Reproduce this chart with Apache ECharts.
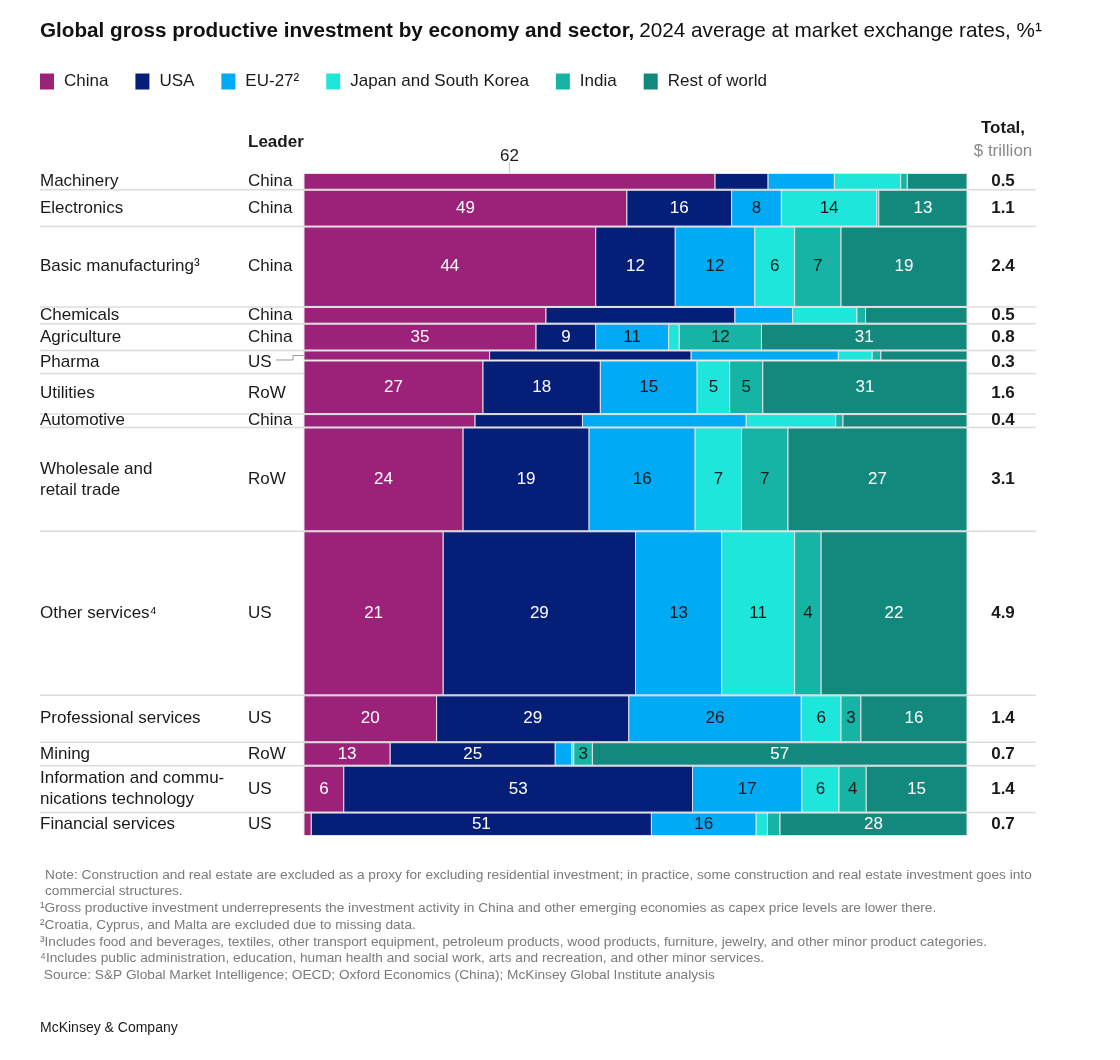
<!DOCTYPE html>
<html>
<head>
<meta charset="utf-8">
<script src="https://cdn.jsdelivr.net/npm/echarts@6/dist/echarts.min.js"></script>
<style>
  html, body { margin: 0; padding: 0; background: #fff; }
  #chart { width: 1120px; height: 1060px; }
</style>
</head>
<body>
<div id="chart"></div>
<script>
// 数据
var sectors = ['Machinery', 'Electronics', 'Basic manufacturing³', 'Chemicals', 'Agriculture', 'Pharma',
    'Utilities', 'Automotive', 'Wholesale and\nretail trade', 'Other services⁴', 'Professional services',
    'Mining', 'Information and commu-\nnications technology', 'Financial services'];
var leaders = ['China', 'China', 'China', 'China', 'China', 'US', 'RoW', 'China', 'RoW', 'US', 'US', 'RoW', 'US', 'US'];
var totals = [0.5, 1.1, 2.4, 0.5, 0.8, 0.3, 1.6, 0.4, 3.1, 4.9, 1.4, 0.7, 1.4, 0.7];
var totalLabels = ['0.5', '1.1', '2.4', '0.5', '0.8', '0.3', '1.6', '0.4', '3.1', '4.9', '1.4', '0.7', '1.4', '0.7'];
var economies = ['China', 'USA', 'EU-27²', 'Japan and South Korea', 'India', 'Rest of world'];

// 各经济体占比 (%)
var china = [62, 48.7, 44, 36.5, 35, 28, 27, 25.8, 24, 21, 20, 13, 6, 1.1];
var usa = [8, 15.8, 12, 28.5, 9, 30.4, 17.7, 16.2, 19, 29, 29, 24.9, 52.6, 51.3];
var eu27 = [10, 7.5, 12, 8.7, 11, 22.2, 14.6, 24.7, 16, 13, 26, 2.5, 16.5, 15.8];
var japanKorea = [10, 14.4, 6, 9.7, 1.6, 5.1, 4.9, 13.5, 7, 11, 6, 0.3, 5.6, 1.7];
var india = [1, 0.3, 7, 1.3, 12.4, 1.3, 5, 1.1, 7, 4, 3, 2.8, 4.1, 1.9];
var restOfWorld = [9, 13.3, 19, 15.3, 31, 13, 30.8, 18.7, 27, 22, 16, 56.5, 15.2, 28.2];

// 哪些行在色块内显示数值
var rowLabeled = [false, true, true, false, true, false, true, false, true, true, true, true, true, true];

var colors = ['#9c2279', '#051e78', '#00aaf4', '#1fe6da', '#15b4a5', '#13897e'];
var textColors = ['#ffffff', '#ffffff', '#1a1a1a', '#1a1a1a', '#1a1a1a', '#ffffff'];
var FONT = '"Liberation Sans", Arial, sans-serif';
// Pharma 行太窄, 左右标签区向下多留一点
var PHARMA = 5;
var PHARMA_EXTRA = 13;

var shares = [china, usa, eu27, japanKorea, india, restOfWorld];
var sumTotal = totals.reduce(function (a, b) { return a + b; }, 0);

// 行的起止位置
var rowStart = [];
var acc = 0;
totals.forEach(function (t) { rowStart.push(acc); acc += t; });

function buildSeriesData(k) {
    return sectors.map(function (s, i) {
        var x0 = 0;
        for (var j = 0; j < k; j++) x0 += shares[j][i];
        return [x0, x0 + shares[k][i], rowStart[i], rowStart[i] + totals[i], shares[k][i], i];
    });
}

function segmentRender(k) {
    return function (params, api) {
        var p0 = api.coord([api.value(0), api.value(2)]);
        var p1 = api.coord([api.value(1), api.value(3)]);
        var v = api.value(4);
        var row = api.value(5);
        var children = [{
            type: 'rect',
            shape: { x: p0[0], y: p0[1] + 0.5, width: p1[0] - p0[0], height: p1[1] - p0[1] - 1 },
            style: { fill: colors[k], stroke: '#e3e3e3', lineWidth: 1 }
        }];
        if (rowLabeled[row] && v >= 2.75) {
            children.push({
                type: 'text',
                style: {
                    text: String(Math.round(v)), x: (p0[0] + p1[0]) / 2, y: (p0[1] + p1[1]) / 2,
                    align: 'center', verticalAlign: 'middle', fill: textColors[k], font: '17px ' + FONT
                }
            });
        }
        if (row === 0 && k === 0) {
            var cx = (p0[0] + p1[0]) / 2;
            children.push({ type: 'line', shape: { x1: cx, y1: p0[1] - 11, x2: cx, y2: p0[1] }, style: { stroke: '#c8c8c8', lineWidth: 1 } });
            children.push({
                type: 'text',
                style: { text: String(Math.round(v)), x: cx, y: p0[1] - 17, align: 'center', verticalAlign: 'middle', fill: '#1a1a1a', font: '17px ' + FONT }
            });
        }
        return { type: 'group', children: children };
    };
}

function rowLabelRender(params, api) {
    var i = api.value(2);
    var pTop = api.coord([0, api.value(0)]);
    var pBot = api.coord([100, api.value(1)]);
    var top = pTop[1] + (i === PHARMA + 1 ? PHARMA_EXTRA : 0);
    var bot = pBot[1] + (i === PHARMA ? PHARMA_EXTRA : 0);
    var textY = (top + bot) / 2;
    var children = [
        { type: 'text', style: { text: sectors[i], x: 40, y: textY, align: 'left', verticalAlign: 'middle', fill: '#1a1a1a', font: '17px ' + FONT, lineHeight: 21 } },
        { type: 'text', style: { text: leaders[i], x: 248, y: textY, align: 'left', verticalAlign: 'middle', fill: '#1a1a1a', font: '17px ' + FONT } },
        { type: 'text', style: { text: totalLabels[i], x: 1003, y: textY, align: 'center', verticalAlign: 'middle', fill: '#1a1a1a', font: 'bold 17px ' + FONT } }
    ];
    if (i < sectors.length - 1) {
        children.push({ type: 'line', shape: { x1: 40, y1: bot, x2: 1036, y2: bot }, style: { stroke: '#dcdcdc', lineWidth: 1.5 } });
    }
    if (i === PHARMA) {
        var midY = (pTop[1] + pBot[1]) / 2;
        children.push({
            type: 'polyline',
            shape: { points: [[276, textY - 2], [293, textY - 2], [293, midY], [pTop[0], midY]] },
            style: { stroke: '#9a9a9a', lineWidth: 1, fill: null }
        });
    }
    return { type: 'group', children: children };
}

var series = economies.map(function (name, k) {
    return {
        name: name,
        type: 'custom',
        renderItem: segmentRender(k),
        itemStyle: { color: colors[k] },
        encode: { x: [0, 1], y: [2, 3] },
        data: buildSeriesData(k),
        z: 3
    };
});
series.push({
    name: 'rows',
    type: 'custom',
    renderItem: rowLabelRender,
    silent: true,
    clip: false,
    encode: { y: [0, 1] },
    data: sectors.map(function (s, i) { return [rowStart[i], rowStart[i] + totals[i], i]; }),
    z: 1
});

var footnotes = [
    'Note: Construction and real estate are excluded as a proxy for excluding residential investment; in practice, some construction and real estate investment goes into',
    'commercial structures.',
    '¹Gross productive investment underrepresents the investment activity in China and other emerging economies as capex price levels are lower there.',
    '²Croatia, Cyprus, and Malta are excluded due to missing data.',
    '³Includes food and beverages, textiles, other transport equipment, petroleum products, wood products, furniture, jewelry, and other minor product categories.',
    '⁴Includes public administration, education, human health and social work, arts and recreation, and other minor services.',
    ' Source: S&P Global Market Intelligence; OECD; Oxford Economics (China); McKinsey Global Institute analysis'
];
var footX = [45, 45, 40, 40, 40, 40, 40];

var graphics = [
    { type: 'text', left: 248, top: 134, style: { text: 'Leader', fill: '#1a1a1a', font: 'bold 17px ' + FONT } },
    { type: 'text', x: 1003, y: 128, style: { text: 'Total,', align: 'center', verticalAlign: 'middle', fill: '#1a1a1a', font: 'bold 17px ' + FONT } },
    { type: 'text', x: 1003, y: 151, style: { text: '$ trillion', align: 'center', verticalAlign: 'middle', fill: '#8a8a8a', font: '17px ' + FONT } },
    { type: 'text', left: 40, top: 1021, style: { text: 'McKinsey & Company', fill: '#1a1a1a', font: '14px ' + FONT } }
];
footnotes.forEach(function (t, i) {
    graphics.push({ type: 'text', x: footX[i], y: 875 + i * 16.7, style: { text: t, verticalAlign: 'middle', fill: '#7a7a7a', font: '13.7px ' + FONT } });
});

echarts.init(document.getElementById('chart')).setOption({
    backgroundColor: '#ffffff',
    animation: false,
    textStyle: { fontFamily: FONT },
    title: {
        left: 40,
        top: 21,
        padding: 0,
        text: '{b|Global gross productive investment by economy and sector,} {r|2024 average at market exchange rates, %¹}',
        textStyle: {
            rich: {
                b: { fontSize: 20.7, fontWeight: 'bold', color: '#111', fontFamily: FONT },
                r: { fontSize: 20.7, fontWeight: 'normal', color: '#111', fontFamily: FONT }
            }
        }
    },
    legend: {
        left: 40,
        top: 73,
        padding: 0,
        icon: 'rect',
        itemWidth: 14,
        itemHeight: 16,
        itemGap: 27,
        data: economies,
        textStyle: { fontSize: 17, color: '#1a1a1a', fontFamily: FONT, padding: [0, 0, 0, 5] },
        selectedMode: false
    },
    grid: {
        left: 304,
        right: 153,
        top: 173,
        bottom: 224
    },
    xAxis: {
        type: 'value',
        min: 0,
        max: 100,
        show: false
    },
    yAxis: {
        type: 'value',
        min: 0,
        max: sumTotal,
        inverse: true,
        show: false
    },
    graphic: graphics,
    series: series
});
</script>
</body>
</html>
